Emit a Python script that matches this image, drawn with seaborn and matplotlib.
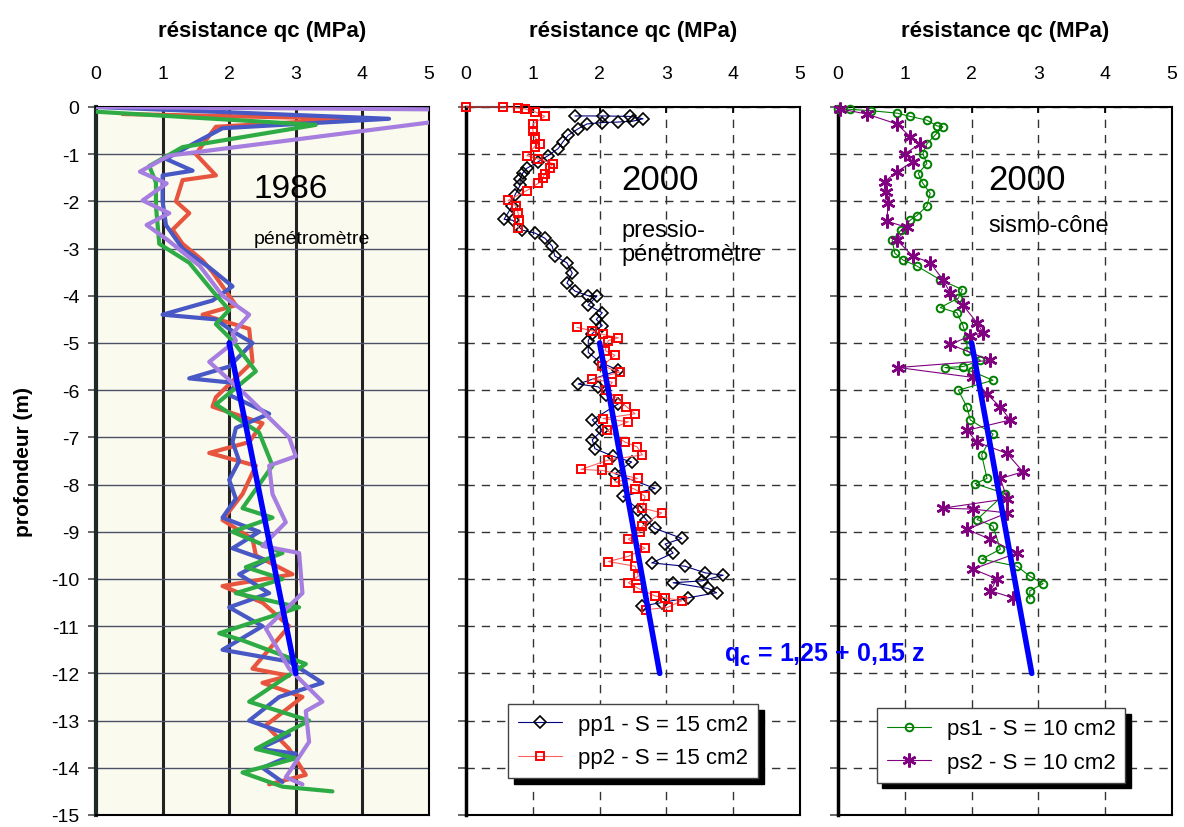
import matplotlib
matplotlib.use("Agg")
import matplotlib.pyplot as plt
import seaborn as sns

# ---- values: q = cone resistance (MPa), z = depth (m, negative) ----
depth_ticks = list(range(0, -16, -1))
q_ticks = [0, 1, 2, 3, 4, 5]

# 1986 - pénétromètre (four scanned profiles)
q_86_blue = [0.0, 4.4, 1.9, 1.5, 1.05, 1.45, 1.0, 1.0, 1.05, 1.3, 1.7, 2.05, 1.75, 1.0, 1.8, 2.05,
             2.35, 2.0, 1.4, 2.1, 2.0, 2.6, 2.1, 2.05, 2.15, 2.0, 2.1, 1.9, 2.45, 2.05, 2.55, 2.15,
             2.6, 2.0, 2.5, 1.9, 2.9, 3.4, 2.75, 2.3, 2.9, 2.45, 3.0, 2.5, 2.8]
z_86_blue = [0.0, -0.25, -0.45, -0.75, -1.1, -1.35, -1.45, -2.0, -2.5, -3.0, -3.4, -3.8, -4.1, -4.4, -4.5, -4.75,
             -5.0, -5.5, -5.75, -5.85, -6.1, -6.5, -6.8, -7.1, -7.5, -7.9, -8.3, -8.7, -9.0, -9.35, -9.6, -9.9,
             -10.3, -10.6, -11.0, -11.5, -11.75, -12.2, -12.5, -13.0, -13.3, -13.6, -13.7, -14.0, -14.3]

q_86_red = [0.4, 3.9, 1.8, 1.6, 1.5, 1.8, 1.3, 1.2, 1.4, 1.15, 1.3, 1.6, 1.75, 2.1, 1.6, 2.3, 2.35,
            1.8, 1.75, 2.5, 2.3, 1.7, 2.4, 2.2, 1.9, 2.35, 2.4, 2.95, 1.9, 2.5, 2.9, 2.35, 2.9, 2.5,
            3.1, 2.55, 2.9, 3.15, 2.6]
z_86_red = [-0.15, -0.25, -0.42, -0.8, -1.0, -1.45, -1.55, -2.0, -2.25, -2.6, -2.9, -3.25, -3.5, -4.2, -4.4, -4.7, -5.4,
            -6.15, -6.35, -6.7, -7.1, -7.33, -7.6, -8.2, -8.75, -9.15, -9.5, -9.9, -10.15, -10.5, -11.0, -11.9, -12.05, -12.2,
            -12.5, -13.1, -13.6, -14.15, -14.35]

q_86_green = [0.0, 3.3, 1.3, 0.8, 0.9, 0.9, 0.95, 1.4, 1.75, 2.0, 1.8, 2.05, 2.4, 1.8, 2.45, 2.65,
              2.2, 2.65, 2.05, 2.8, 2.25, 2.8, 2.1, 3.05, 1.85, 2.2, 3.15, 2.3, 3.2, 2.4, 3.0, 2.2, 2.8, 3.55]
z_86_green = [-0.1, -0.38, -0.85, -1.25, -1.6, -2.1, -2.9, -3.3, -3.9, -4.3, -4.6, -4.95, -5.6, -6.3, -6.9, -7.6,
              -8.5, -8.7, -9.0, -9.45, -9.75, -10.0, -10.3, -10.6, -11.15, -11.3, -11.8, -12.6, -13.0, -13.6, -13.8, -14.1, -14.4, -14.5]

q_86_purple = [0.0, 5.0, 5.8, 5.0, 1.1, 0.66, 1.06, 0.7, 1.1, 0.76, 1.06, 1.56, 1.9, 2.3, 2.05, 2.1,
               1.7, 2.25, 2.9, 3.0, 2.6, 2.65, 2.85, 2.5, 3.05, 3.1, 2.55, 2.9, 3.4, 3.15, 3.2, 2.85, 3.1]
z_86_purple = [0.0, -0.05, -0.2, -0.33, -1.03, -1.37, -1.62, -1.98, -2.25, -2.5, -2.8, -3.37, -4.0, -4.4, -4.8, -4.95,
               -5.4, -6.1, -7.0, -7.4, -7.6, -8.2, -8.8, -9.3, -9.45, -10.3, -11.05, -11.9, -12.6, -12.8, -13.45, -14.2, -14.35]

# 2000 - pressio-pénétromètre
q_pp1 = [1.63, 2.05, 2.45, 2.65, 2.5, 2.27, 2.04, 1.81, 1.68, 1.53, 1.45, 1.38, 1.23, 1.08, 0.91, 0.85,
         0.81, 0.81, 0.73, 0.69, 0.57, 0.7, 0.84, 1.03, 1.18, 1.29, 1.33, 1.51, 1.59, 1.51, 1.63, 1.83,
         1.96, 1.83, 2.04, 1.95, 2.04, 1.89, 1.83, 1.83, 2.0, 2.28, 1.68, 1.98, 2.1, 2.28, 1.89, 2.04,
         1.89, 1.93, 2.2, 2.48, 2.23, 2.83, 2.35, 2.58, 2.7, 2.83, 3.23, 2.98, 3.1, 2.78, 3.28, 3.58,
         3.85, 3.53, 3.1, 3.62, 3.75, 3.32, 2.93, 2.64]
z_pp1 = [-0.19, -0.19, -0.2, -0.25, -0.3, -0.32, -0.33, -0.36, -0.46, -0.6, -0.74, -0.88, -1.03, -1.16, -1.3, -1.4,
         -1.52, -1.66, -1.87, -2.1, -2.38, -2.4, -2.61, -2.67, -2.78, -2.95, -3.16, -3.3, -3.52, -3.73, -3.9, -4.0,
         -4.0, -4.2, -4.36, -4.5, -4.63, -4.8, -4.95, -5.2, -5.4, -5.58, -5.87, -5.93, -6.1, -6.29, -6.63, -6.85,
         -7.05, -7.24, -7.4, -7.52, -7.77, -8.08, -8.25, -8.53, -8.75, -8.93, -9.14, -9.26, -9.45, -9.66, -9.73, -9.87,
         -9.92, -10.04, -10.08, -10.2, -10.29, -10.4, -10.5, -10.57]

q_pp2_top = [0.0, 0.55, 0.78, 0.88, 1.03, 1.18, 1.0, 1.0, 1.03, 1.1, 1.03, 0.91, 1.08, 1.3, 1.25, 1.18,
             1.15, 1.08, 0.91, 0.63, 0.75, 0.78, 0.8, 0.78]
z_pp2_top = [0.0, 0.0, -0.02, -0.04, -0.1, -0.2, -0.36, -0.5, -0.63, -0.78, -0.84, -1.03, -1.1, -1.2, -1.3, -1.41,
             -1.5, -1.62, -1.77, -1.98, -2.1, -2.25, -2.4, -2.57]
q_pp2_bot = [1.66, 1.89, 2.05, 2.28, 2.13, 2.08, 2.23, 2.04, 2.3, 1.89, 2.19, 2.1, 2.28, 2.4, 2.53, 2.05,
             2.43, 2.11, 2.38, 2.56, 2.64, 2.13, 1.72, 2.04, 2.57, 2.23, 2.53, 2.68, 2.64, 2.93, 2.64, 2.6,
             2.43, 2.68, 2.43, 2.13, 2.53, 2.58, 2.43, 2.58, 2.83, 2.98, 3.23, 3.02, 2.7]
z_pp2_bot = [-4.67, -4.74, -4.82, -4.89, -4.95, -5.16, -5.26, -5.48, -5.62, -5.77, -5.83, -6.0, -6.19, -6.35, -6.5, -6.6,
             -6.67, -6.85, -7.1, -7.2, -7.37, -7.48, -7.68, -7.7, -7.87, -7.94, -8.1, -8.25, -8.5, -8.6, -8.88, -9.0,
             -9.16, -9.35, -9.52, -9.63, -9.73, -9.94, -10.08, -10.2, -10.36, -10.4, -10.46, -10.6, -10.65]

# 2000 - sismo-cône
q_ps1 = [0.0, 0.18, 0.5, 0.88, 1.08, 1.33, 1.48, 1.57, 1.45, 1.33, 1.27, 1.33, 1.2, 1.27, 1.38, 1.33,
         1.18, 1.08, 0.95, 0.81, 0.85, 0.97, 1.18, 1.53, 1.86, 1.8, 1.53, 1.78, 1.87, 1.93, 1.93, 2.13,
         1.87, 1.6, 2.0, 2.32, 1.8, 1.93, 1.98, 2.32, 2.15, 2.23, 2.05, 2.5, 2.08, 2.32, 2.43, 2.15,
         2.68, 2.87, 3.07, 2.87, 2.87]
z_ps1 = [-0.04, -0.05, -0.08, -0.13, -0.2, -0.28, -0.4, -0.42, -0.6, -0.78, -0.99, -1.2, -1.41, -1.62, -1.83, -2.1,
         -2.3, -2.4, -2.6, -2.82, -3.1, -3.24, -3.37, -3.66, -3.87, -4.05, -4.25, -4.36, -4.63, -4.9, -5.16, -5.37,
         -5.5, -5.52, -5.6, -5.79, -6.0, -6.36, -6.63, -6.93, -7.37, -7.87, -7.98, -8.19, -8.74, -8.88, -9.37, -9.58,
         -9.73, -9.94, -10.1, -10.25, -10.42]

q_ps2 = [0.03, 0.43, 0.88, 1.08, 1.23, 1.0, 1.12, 0.88, 0.7, 0.72, 0.75, 0.73, 1.03, 0.88, 1.12, 1.38,
         1.57, 1.68, 1.87, 2.08, 2.17, 1.98, 1.68, 2.28, 0.9, 2.02, 2.23, 2.43, 2.58, 1.93, 2.08, 2.53,
         2.77, 2.43, 2.53, 1.57, 2.02, 2.53, 1.93, 2.28, 2.68, 2.02, 2.38, 2.28, 2.62]
z_ps2 = [-0.04, -0.15, -0.36, -0.63, -0.78, -0.99, -1.16, -1.37, -1.58, -1.8, -2.04, -2.42, -2.55, -2.82, -3.16, -3.3,
         -3.66, -3.94, -4.2, -4.57, -4.78, -4.85, -5.03, -5.37, -5.52, -5.73, -6.08, -6.36, -6.63, -6.85, -7.1, -7.34,
         -7.73, -7.87, -8.3, -8.5, -8.52, -8.6, -8.95, -9.16, -9.45, -9.79, -10.0, -10.25, -10.4]

# trend q = 1,25 + 0,15 z between 5 and 12 m
trend_z = [-5, -12]
trend_q_86 = [2.0, 3.0]
trend_q_00 = [2.0, 2.9]

sns.set_theme(style="ticks")
plt.rcParams['font.family'] = ['Liberation Sans', 'DejaVu Sans']
plt.rcParams['axes.unicode_minus'] = False
plt.rcParams.update({'text.color': 'black', 'axes.labelcolor': 'black',
                     'xtick.color': 'black', 'ytick.color': 'black'})


def profile(ax, q, z, **kw):
    sns.lineplot(x=q, y=z, sort=False, estimator=None, ax=ax, **kw)


def setup_axis(ax, show_depth):
    ax.set_xlim(0, 5)
    ax.set_ylim(-15, 0)
    ax.xaxis.tick_top()
    ax.xaxis.set_label_position('top')
    ax.set_xticks(q_ticks)
    ax.set_yticks(depth_ticks)
    ax.tick_params(axis='x', direction='in', length=4, pad=18, labelsize=14, top=True, bottom=False)
    ax.tick_params(axis='y', direction='out', length=6, pad=6, labelsize=14, color='#555555')
    ax.set_xlabel("résistance qc (MPa)", fontsize=16, fontweight='bold', labelpad=21)
    if show_depth:
        ax.set_yticklabels([str(t) for t in depth_ticks])
        ax.set_ylabel("profondeur (m)", fontsize=15, fontweight='bold', labelpad=13)
    else:
        ax.set_yticklabels([])
        ax.set_ylabel("")
    for s in ax.spines.values():
        s.set_color('black')
        s.set_linewidth(1.5)
    ax.spines['left'].set_linewidth(2.5)


fig = plt.figure(figsize=(11.84, 8.28), dpi=100)
bottom, height = 0.0145, 0.8551
ax1 = fig.add_axes([0.0811, bottom, 0.2812, height])
ax2 = fig.add_axes([0.3936, bottom, 0.2821, height])
ax3 = fig.add_axes([0.7078, bottom, 0.2821, height])

# ---- panel 1 : 1986 ----
ax1.set_facecolor('#fafbee')
for q in q_ticks[1:-1]:
    ax1.axvline(q, color='#232323', lw=2.2, zorder=1)
for d in depth_ticks[1:-1]:
    ax1.axhline(d, color='#4b5068', lw=1.0, zorder=1)
profile(ax1, q_86_blue, z_86_blue, color='#4858c4', lw=3, zorder=3)
profile(ax1, q_86_red, z_86_red, color='#e8553f', lw=3, zorder=2)
profile(ax1, q_86_green, z_86_green, color='#2eab45', lw=3, zorder=3)
profile(ax1, q_86_purple, z_86_purple, color='#a67ee0', lw=3, zorder=4)
profile(ax1, trend_q_86, trend_z, color='#0000ff', lw=4, zorder=5)
ax1.text(2.37, -1.73, "1986", fontsize=24, va='center', ha='left', zorder=6)
ax1.text(2.37, -2.78, "pénétromètre", fontsize=14, va='center', ha='left', zorder=6)
setup_axis(ax1, True)
ax1.spines['left'].set_color('#1d2a28')
ax1.spines['left'].set_linewidth(3)

# ---- panel 2 : pressio-pénétromètre ----
for ax in (ax2, ax3):
    ax.set_facecolor('white')
    ax.grid(True, color='#333333', linestyle=(0, (6, 5)), lw=1.0)

profile(ax2, q_pp1, z_pp1, color='#000080', lw=0.8, marker='D', markersize=6,
        markerfacecolor='none', markeredgecolor='black', markeredgewidth=1.2,
        label='pp1 - S = 15 cm2', zorder=3, clip_on=False)
profile(ax2, q_pp2_top, z_pp2_top, color='#ff6060', lw=0.8, marker='s', markersize=6,
        markerfacecolor='none', markeredgecolor='red', markeredgewidth=1.4,
        label='pp2 - S = 15 cm2', zorder=4, clip_on=False)
profile(ax2, q_pp2_bot, z_pp2_bot, color='#ff6060', lw=0.8, marker='s', markersize=6,
        markerfacecolor='none', markeredgecolor='red', markeredgewidth=1.4, zorder=4)
profile(ax2, trend_q_00, trend_z, color='#0000ff', lw=4, zorder=5)
ax2.text(2.32, -1.54, "2000", fontsize=25, va='center', ha='left')
ax2.text(2.32, -2.86, "pressio-\npénétromètre", fontsize=17, va='center', ha='left', linespacing=1.1)
setup_axis(ax2, False)

# ---- panel 3 : sismo-cône ----
profile(ax3, q_ps1, z_ps1, color='green', lw=0.8, marker='o', markersize=5.5,
        markerfacecolor='none', markeredgecolor='green', markeredgewidth=1.4,
        label='ps1 - S = 10 cm2', zorder=3, clip_on=False)
profile(ax3, q_ps2, z_ps2, color='purple', lw=0.8, marker=(6, 2, 0), markersize=10,
        markeredgecolor='purple', markeredgewidth=1.8,
        label='ps2 - S = 10 cm2', zorder=4, clip_on=False)
profile(ax3, trend_q_00, trend_z, color='#0000ff', lw=4, zorder=5)
ax3.text(2.25, -1.54, "2000", fontsize=25, va='center', ha='left')
ax3.text(2.25, -2.5, "sismo-cône", fontsize=17, va='center', ha='left')
setup_axis(ax3, False)

shadow = {'facecolor': 'black', 'edgecolor': 'black', 'alpha': 1, 'ox': 4, 'oy': -4}
for ax, xc, yb in ((ax2, 0.50, 0.036), (ax3, 0.488, 0.030)):
    leg = ax.legend(loc='lower center', bbox_to_anchor=(xc, yb), fontsize=16, frameon=True,
                    fancybox=False, edgecolor='#444444', framealpha=1, shadow=shadow,
                    handlelength=2.0, labelspacing=0.55, borderpad=0.45, handletextpad=0.7)
    leg.get_frame().set_linewidth(1.0)
    leg.set_zorder(10)

fig.text(0.6115, 0.209, r"q$_\mathbf{c}$ = 1,25 + 0,15 z", color='#0000ff',
         fontsize=18, fontweight='bold', va='center', ha='left')

fig.savefig("out.png", dpi=100)
